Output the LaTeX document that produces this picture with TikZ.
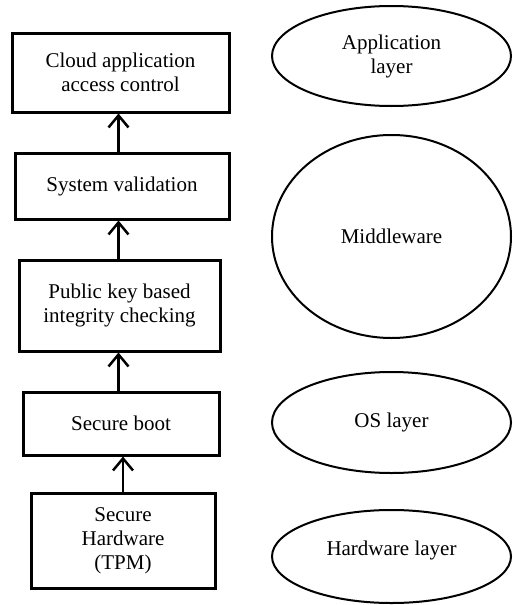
\documentclass[tikz,border=0pt]{standalone}
\usepackage{fontspec}
\setmainfont{Liberation Serif}
\usetikzlibrary{shapes.geometric,arrows.meta}
\begin{document}
\begin{tikzpicture}[x=1pt,y=-1pt,
  every node/.style={font=\fontsize{21}{24}\selectfont, align=center, inner sep=0pt},
  stepbox/.style={draw, line width=3pt, rectangle},
  layer/.style={draw, line width=2pt, ellipse, minimum width=239pt},
  arr/.style={line width=2.5pt, -{Straight Barb[length=12pt,width=20pt,line width=2.5pt]}}]
\useasboundingbox (0,0) rectangle (512,605);
% chain of trust, bottom to top
\node[stepbox, minimum width=217pt, minimum height=79pt] (b1) at (120.5,72.5) {Cloud application\\access control};
\node[stepbox, minimum width=214pt, minimum height=66pt] (b2) at (122,186) {System validation};
\node[stepbox, minimum width=201pt, minimum height=91pt] (b3) at (119.5,305.5) {Public key based\\integrity checking};
\node[stepbox, minimum width=196pt, minimum height=63pt] (b4) at (121,423.5) {Secure boot};
\node[stepbox, minimum width=184pt, minimum height=95pt] (b5) at (123,540.5) {Secure\\Hardware\\(TPM)};
\coordinate (ax) at (118.5,0);
\draw[arr] (b2.north -| ax) -- (b1.south -| ax);
\draw[arr] (b3.north -| ax) -- (b2.south -| ax);
\draw[arr] (b4.north -| ax) -- (b3.south -| ax);
\draw[arr] (b5.north) -- (b4.south -| b5.north);
% layers
\node[layer, minimum height=100pt] (l1) at (391.5,56) {Application\\layer};
\node[layer, minimum height=203pt] (l2) at (391.5,236.5) {Middleware};
\node[layer, minimum height=101pt] (l3) at (391.5,422.5) {OS layer};
\node[layer, minimum height=93pt] (l4) at (391.5,556.5) {};
\node at (391.5,550) {Hardware layer};
\end{tikzpicture}
\end{document}
